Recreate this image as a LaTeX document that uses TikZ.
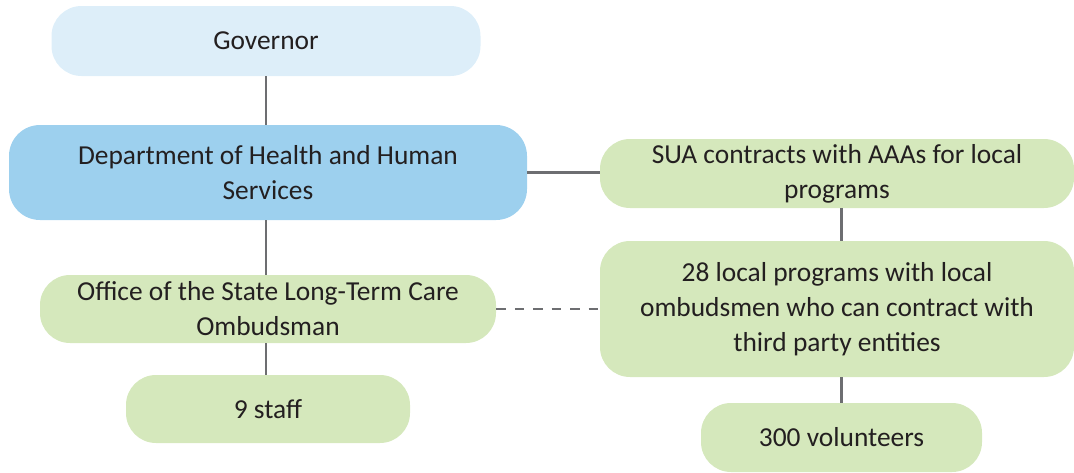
\documentclass[tikz,border=0pt]{standalone}
\usepackage{fontspec}
\setmainfont{Carlito}
\usepackage{xcolor}
\usepackage{tikz}
\usetikzlibrary{positioning}
\definecolor{govblue}{HTML}{DDEEF9}
\definecolor{deptblue}{HTML}{9DD0EE}
\definecolor{boxgreen}{HTML}{D5E8BC}
\definecolor{linegray}{HTML}{6D6E71}
\definecolor{txt}{HTML}{231F20}
\tikzset{
  orgbox/.style={rectangle, rounded corners=#1, draw=none, text=txt,
                 font=\fontsize{15.6}{19.9}\selectfont,
                 inner sep=0pt, align=center},
  orgbox/.default=0.6cm,
  conn/.style={draw=linegray, line width=1.4pt},
  dashconn/.style={conn, dash pattern=on 5.5pt off 5pt},
}
\begin{document}
\begin{tikzpicture}
  \useasboundingbox (0,0) rectangle (21.48,-9.44);
  %% left column
  \node[orgbox, fill=govblue, minimum width=8.58cm, minimum height=1.40cm]
    (gov) at (5.32,-0.82) {Governor};
  \node[orgbox=0.62cm, fill=deptblue, minimum width=10.36cm, minimum height=1.90cm]
    (dhhs) at (5.36,-3.45) {Department of Health and Human\\Services};
  \node[orgbox, fill=boxgreen, minimum width=9.12cm, minimum height=1.36cm]
    (ltc) at (5.36,-6.18) {Office of the State Long-Term Care\\Ombudsman};
  \node[orgbox, fill=boxgreen, minimum width=5.68cm, minimum height=1.36cm]
    (staff) at (5.36,-8.18) {9 staff};
  %% right column
  \node[orgbox, fill=boxgreen, minimum width=9.48cm, minimum height=1.38cm]
    (sua) at (16.74,-3.47) {SUA contracts with AAAs for local\\programs};
  \node[orgbox, fill=boxgreen, minimum width=9.48cm, minimum height=2.72cm]
    (local) at (16.74,-6.18) {28 local programs with local\\ombudsmen who can contract with\\third party entities};
  \node[orgbox, fill=boxgreen, minimum width=5.62cm, minimum height=1.38cm]
    (vol) at (16.83,-8.75) {300 volunteers};
  %% connectors
  \coordinate (lcol) at (5.32,0);
  \coordinate (rcol) at (16.83,0);
  \foreach \a/\b in {gov/dhhs,dhhs/ltc,ltc/staff}
    \draw[conn] (lcol |- \a.south) -- (lcol |- \b.north);
  \foreach \a/\b in {sua/local,local/vol}
    \draw[conn] (rcol |- \a.south) -- (rcol |- \b.north);
  \draw[conn] (dhhs.east) -- (dhhs.east -| sua.west);
  \draw[dashconn] (ltc.east) -- (local.west);
\end{tikzpicture}
\end{document}
